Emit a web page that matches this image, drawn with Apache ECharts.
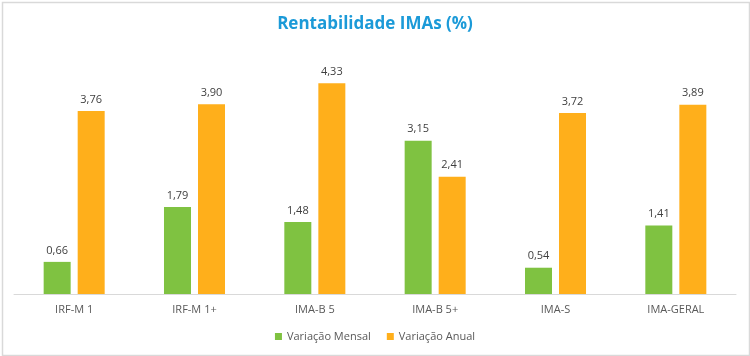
<!DOCTYPE html>
<html>
<head>
<meta charset="utf-8">
<script src="https://cdn.jsdelivr.net/npm/echarts@6/dist/echarts.min.js"></script>
<style>
html,body{margin:0;padding:0;background:#fff;}
#c{width:750px;height:356px;}
</style>
</head>
<body>
<div id="c"></div>
<script>
const categories = ['IRF-M 1', 'IRF-M 1+', 'IMA-B 5', 'IMA-B 5+', 'IMA-S', 'IMA-GERAL'];
const mensal = [0.66, 1.79, 1.48, 3.15, 0.54, 1.41];
const anual = [3.76, 3.90, 4.33, 2.41, 3.72, 3.89];
const seriesNames = ['Variação Mensal', 'Variação Anual'];

const fmt = p => p.value.toFixed(2).replace('.', ',');
const font = '"Open Sans", "Noto Sans", sans-serif';
const chart = echarts.init(document.getElementById('c'), null, {renderer: 'canvas'});
chart.setOption({
  animation: false,
  backgroundColor: '#fff',
  graphic: [{
    type: 'rect', left: 0, top: 0, z: -1,
    shape: {x: 0, y: 0, width: 747, height: 353},
    style: {fill: 'none', stroke: '#d9d9d9', lineWidth: 1.5}
  }],
  title: {
    text: 'Rentabilidade IMAs (%)', left: 'center', top: 11,
    textStyle: {color: '#1b9ad8', fontSize: 17, fontWeight: 'bold', fontFamily: font}
  },
  legend: {
    bottom: 9, left: 'center', itemWidth: 7, itemHeight: 7, itemGap: 16,
    icon: 'rect',
    textStyle: {color: '#595959', fontSize: 11, fontFamily: font},
    data: seriesNames
  },
  grid: {left: 14, right: 14, top: 75, bottom: 62},
  xAxis: {
    type: 'category', data: categories,
    axisLine: {lineStyle: {color: '#d9d9d9'}},
    axisTick: {show: false},
    axisLabel: {color: '#595959', fontSize: 11, fontFamily: font, margin: 10}
  },
  yAxis: {type: 'value', min: 0, max: 4.5, show: false, splitLine: {show: false}},
  series: [
    {name: seriesNames[0], type: 'bar', data: mensal, barWidth: 27, barGap: '26%',
     itemStyle: {color: '#7fc241'},
     label: {show: true, position: 'top', distance: 6, color: '#404040', fontSize: 11, fontFamily: font, formatter: fmt}},
    {name: seriesNames[1], type: 'bar', data: anual, barWidth: 27,
     itemStyle: {color: '#ffaf1b'},
     label: {show: true, position: 'top', distance: 6, color: '#404040', fontSize: 11, fontFamily: font, formatter: fmt}}
  ]
});
</script>
</body>
</html>
